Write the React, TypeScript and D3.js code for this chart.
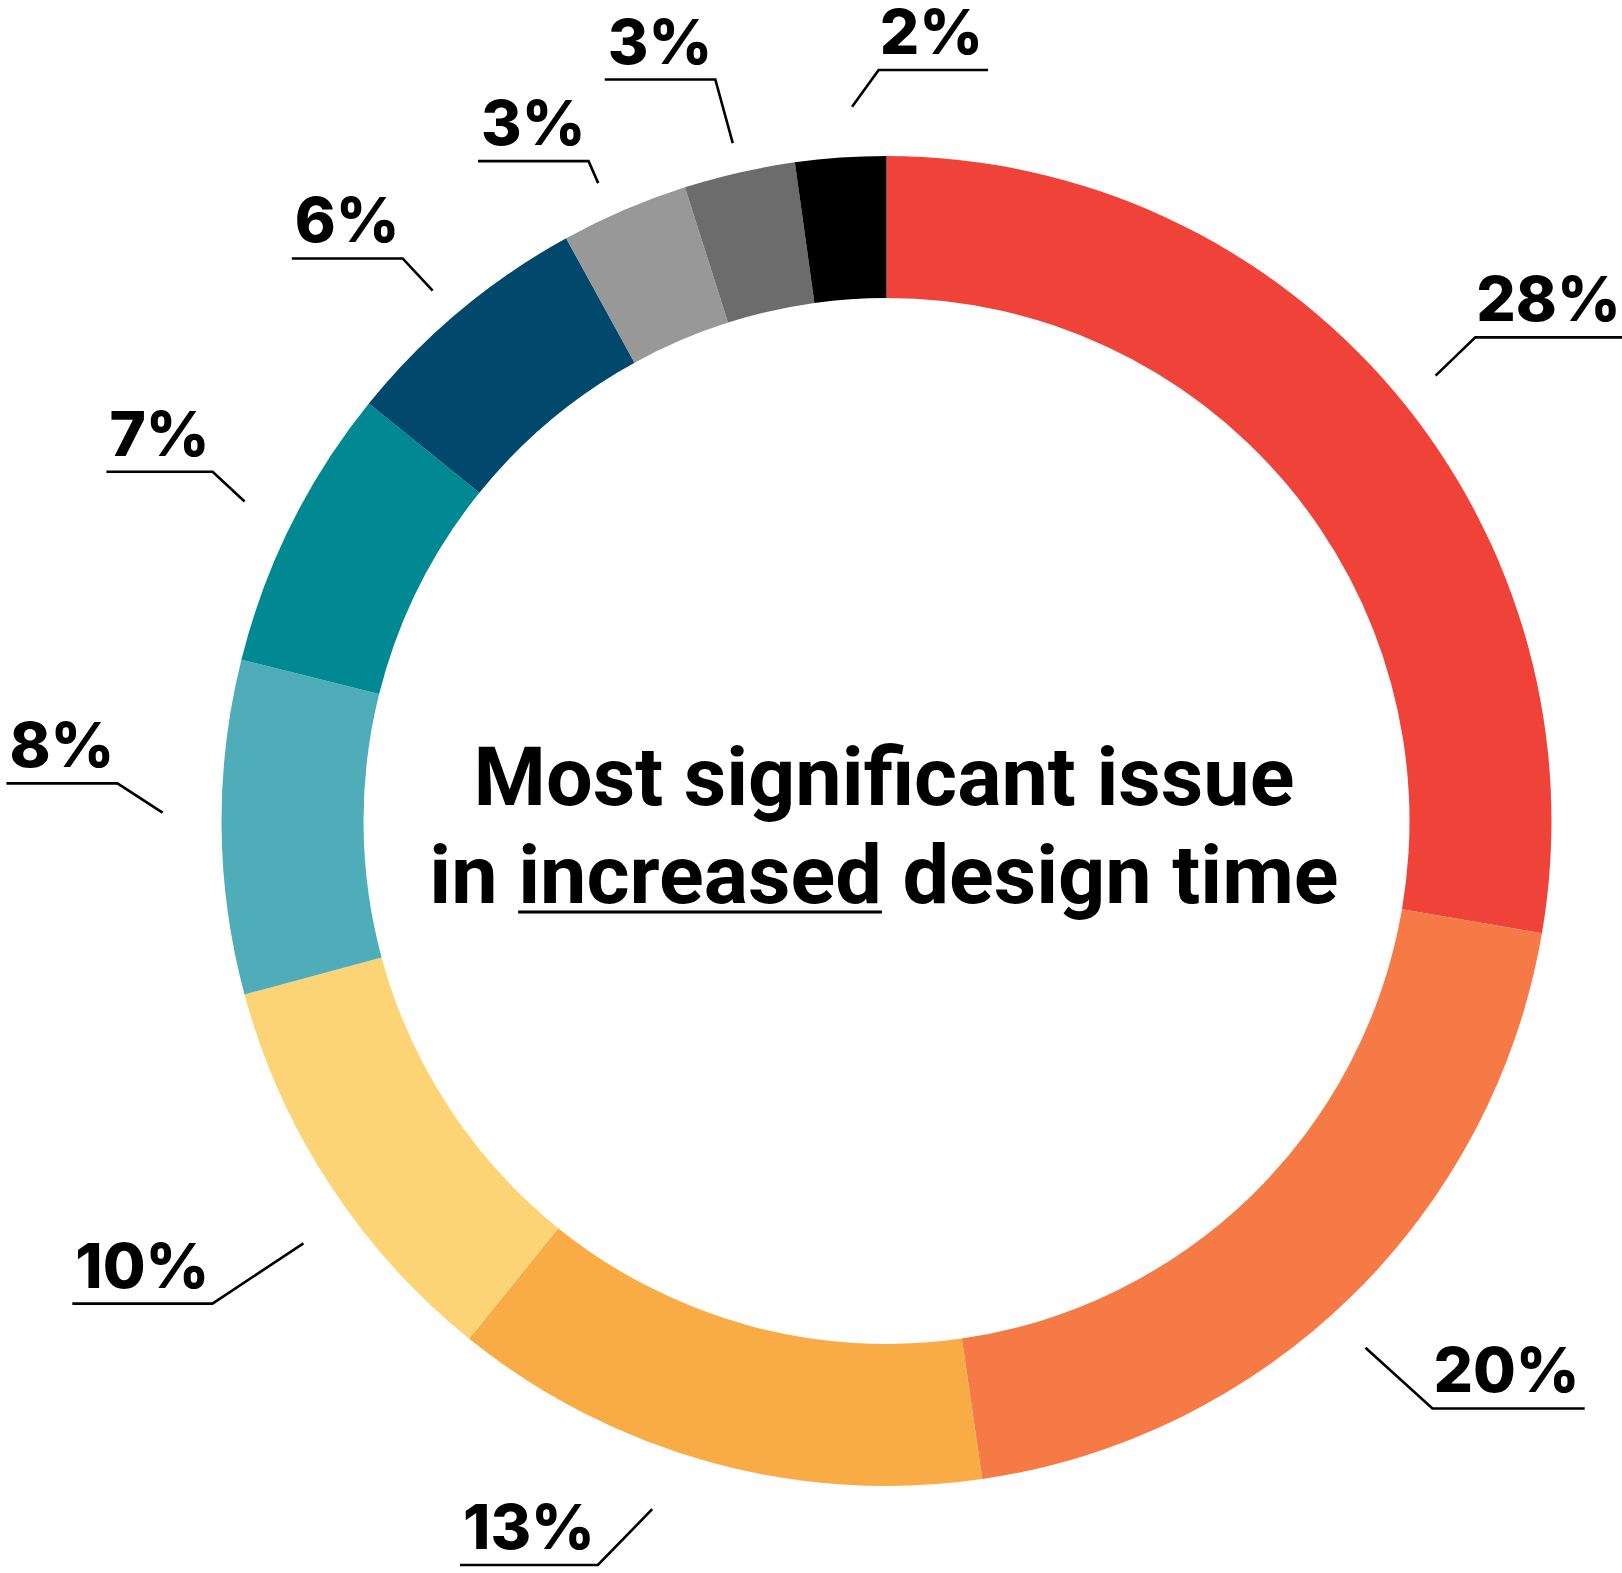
import React, { useEffect, useRef } from "react";
import * as d3 from "d3";

const values = [27.7, 20.0, 13.1, 10.0, 8.1, 6.9, 6.2, 3.1, 2.7, 2.2];
const labels = ["28%", "20%", "13%", "10%", "8%", "7%", "6%", "3%", "3%", "2%"];
const colors = [
  "#EF4238", "#F67A46", "#F9AC46", "#FDD475", "#4FACB9",
  "#008893", "#00486C", "#989898", "#6C6C6C", "#000000",
];
const titleLine1 = "Most significant issue";
const titleLine2Parts = ["in ", "increased", " design time"];

// ---- Label layout (leader elbows, in polar terms around the ring) ----
const leaderStartRadius = [707, 712, 727, 720, 724, 717, 698, 700, 695, 715];
const leaderAngleShift = [1.1, 2.0, 3.5, -2.8, 1.2, 0, -0.6, -1.1, 0, 1.2];
const elbowRadius = [762, 802, 798, 829, 770, 759, 742, 724, 761, 751];
const elbowAngle = [50.6, 137.1, 201.2, 234.4, 272.8, 297.4, 319.3, 335.7, 347, 359.4];
const labelOnRight = [true, true, false, false, false, false, false, false, false, true];

const W = 1622;
const H = 1573;
const CX = 886.5;
const CY = 821;
const R_OUT = 665;
const R_IN = 523;

export default function App() {
  const ref = useRef<SVGSVGElement | null>(null);

  useEffect(() => {
    const svg = d3.select(ref.current);
    svg.selectAll("*").remove();
    const g = svg.append("g").attr("transform", `translate(${CX},${CY})`);

    const pie = d3.pie<number>().value((d) => d).sort(null);
    const arcs = pie(values);
    const arc = d3.arc<d3.PieArcDatum<number>>().innerRadius(R_IN).outerRadius(R_OUT);

    g.selectAll("path.slice")
      .data(arcs)
      .join("path")
      .attr("class", "slice")
      .attr("d", arc as any)
      .attr("fill", (_d, i) => colors[i]);

    const polar = (deg: number, r: number): [number, number] => {
      const a = (deg * Math.PI) / 180;
      return [Math.sin(a) * r, -Math.cos(a) * r];
    };

    const labelFont = "Inter, 'Liberation Sans', sans-serif";
    const lg = g.append("g");
    arcs.forEach((a, i) => {
      const midDeg = (((a.startAngle + a.endAngle) / 2) * 180) / Math.PI + leaderAngleShift[i];
      const p0 = polar(midDeg, leaderStartRadius[i]);
      const p1 = polar(elbowAngle[i], elbowRadius[i]);
      const t = lg
        .append("text")
        .attr("font-family", labelFont)
        .attr("font-weight", 800)
        .attr("font-size", 62)
        .attr("fill", "#000")
        .text(labels[i]);
      const tw = (t.node() as SVGTextElement).getComputedTextLength();
      const ulen = tw + 6;
      const right = labelOnRight[i];
      const p2: [number, number] = [p1[0] + (right ? ulen : -ulen), p1[1]];
      const tx = right ? p1[0] + 1 : p1[0] - ulen + 3;
      t.attr("x", tx).attr("y", p1[1] - 16);
      lg.append("path")
        .attr("d", d3.line()([p0, p1, p2]) as string)
        .attr("fill", "none")
        .attr("stroke", "#000")
        .attr("stroke-width", 2.6);
    });

    // Center title
    const titleFont = "Roboto, 'Liberation Sans', sans-serif";
    const fs = 82;
    const targetW1 = 821;
    const t1 = g
      .append("text")
      .attr("font-family", titleFont)
      .attr("font-weight", 700)
      .attr("font-size", fs)
      .attr("fill", "#000")
      .text(titleLine1);
    const w1 = (t1.node() as SVGTextElement).getComputedTextLength();
    const sx = targetW1 / w1;
    const tcx = -2.5;
    t1.attr("x", -w1 / 2).attr("transform", `translate(${tcx},${805 - CY}) scale(${sx},1)`);

    const t2 = g
      .append("text")
      .attr("font-family", titleFont)
      .attr("font-weight", 700)
      .attr("font-size", fs)
      .attr("fill", "#000")
      .attr("xml:space", "preserve")
      .style("white-space", "pre");
    titleLine2Parts.forEach((p) => t2.append("tspan").text(p));
    const n2 = t2.node() as SVGTextElement;
    const w2 = n2.getComputedTextLength();
    const pre = n2.getSubStringLength(0, titleLine2Parts[0].length);
    const mid = n2.getSubStringLength(titleLine2Parts[0].length, titleLine2Parts[1].length);
    const x0 = -w2 / 2;
    t2.attr("x", x0).attr("transform", `translate(${tcx},${903 - CY}) scale(${sx},1)`);
    g.append("line")
      .attr("x1", tcx + (x0 + pre) * sx)
      .attr("x2", tcx + (x0 + pre + mid) * sx)
      .attr("y1", 912 - CY)
      .attr("y2", 912 - CY)
      .attr("stroke", "#000")
      .attr("stroke-width", 3);
  }, []);

  return (
    <svg
      ref={ref}
      width={W}
      height={H}
      style={{ position: "absolute", left: 0, top: 0, background: "#fff" }}
    />
  );
}
